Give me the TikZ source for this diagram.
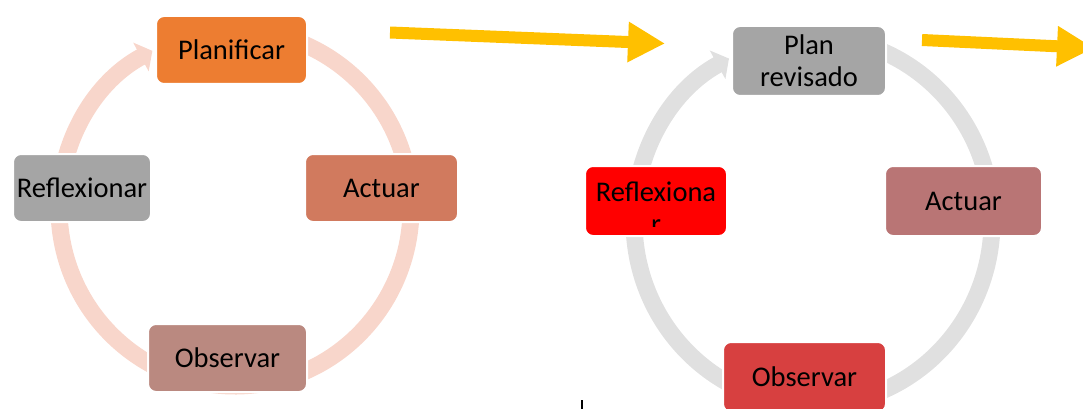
\documentclass[tikz,border=0pt]{standalone}
\usepackage{fontspec}
\setmainfont{Carlito}
\usetikzlibrary{arrows.meta, positioning, calc}
\definecolor{planorange}{RGB}{237,125,49}
\definecolor{actrust}{RGB}{209,122,94}
\definecolor{stepgray}{RGB}{165,165,165}
\definecolor{obsrose}{RGB}{186,137,128}
\definecolor{actmauve}{RGB}{185,117,117}
\definecolor{obsred}{RGB}{215,64,64}
\definecolor{reflred}{RGB}{255,0,0}
\definecolor{ringpink}{RGB}{248,214,203}
\definecolor{ringgray}{RGB}{224,224,224}
\definecolor{arrowgold}{RGB}{255,192,0}
\newcommand{\phasefont}{\fontsize{28.5}{32}\selectfont}

\begin{document}
\begin{tikzpicture}[x=1pt, y=-1pt,
  box/.style={rounded corners=8pt, draw=white, line width=2pt, inner sep=0pt,
    minimum height=68pt, align=center, text=black, font=\phasefont},
  ring/.style={line width=17pt, -{Triangle[length=13pt, width=32pt]}},
  yarrow/.style={draw=arrowgold, line width=12pt, -{Triangle[length=37pt, width=38pt]}}]
  \clip (0,0) rectangle (1083,409);

  % first cycle
  \coordinate (c1) at (235,208);
  \draw[ring, draw=ringpink] ($(c1)+(95:176pt and 178pt)$)
    arc[start angle=95, end angle=-242, x radius=176pt, y radius=178pt];
  \node[box, fill=planorange, minimum width=151pt] (plan1) at (231.5,50) {Planificar};
  \node[box, fill=actrust, minimum width=153pt] (act1) at (381.5,188) {Actuar};
  \node[box, fill=obsrose, minimum width=159pt] (obs1) at (227.5,358) {Observar};
  \node[box, fill=stepgray, minimum width=138pt] (refl1) at (82,188) {Reflexionar};

  % second cycle
  \coordinate (c2) at (813,221);
  \draw[ring, draw=ringgray] ($(c2)+(95:179pt and 184pt)$)
    arc[start angle=95, end angle=-242, x radius=179pt, y radius=184pt];
  \node[box, fill=stepgray, minimum width=154pt, minimum height=70pt] (plan2) at (809,61) {Plan\\revisado};
  \node[box, fill=actmauve, minimum width=157pt, minimum height=70pt] (act2) at (963.5,201) {Actuar};
  \node[box, fill=obsred, minimum width=163pt, minimum height=70pt] (obs2) at (804.5,377) {Observar};
  \node[box, fill=reflred, minimum width=142pt, minimum height=70pt] (refl2) at (656,201) {};
  \begin{scope}
    \clip (585,160) rectangle (727,226);
    \node[font=\phasefont, align=center, inner sep=0pt] (refl2txt) at (656,208) {Reflexiona\\r};
  \end{scope}

  % arrows between cycles
  \coordinate (ya1s) at (390,32.5);
  \coordinate (ya1e) at (665,43.5);
  \coordinate (ya2s) at (922,40);
  \coordinate (ya2e) at (1094,48);
  \draw[yarrow] (ya1s) -- (ya1e);
  \draw[yarrow] (ya2s) -- (ya2e);

  \draw[line width=1.2pt] (582,400) -- (582,409);
\end{tikzpicture}
\end{document}
